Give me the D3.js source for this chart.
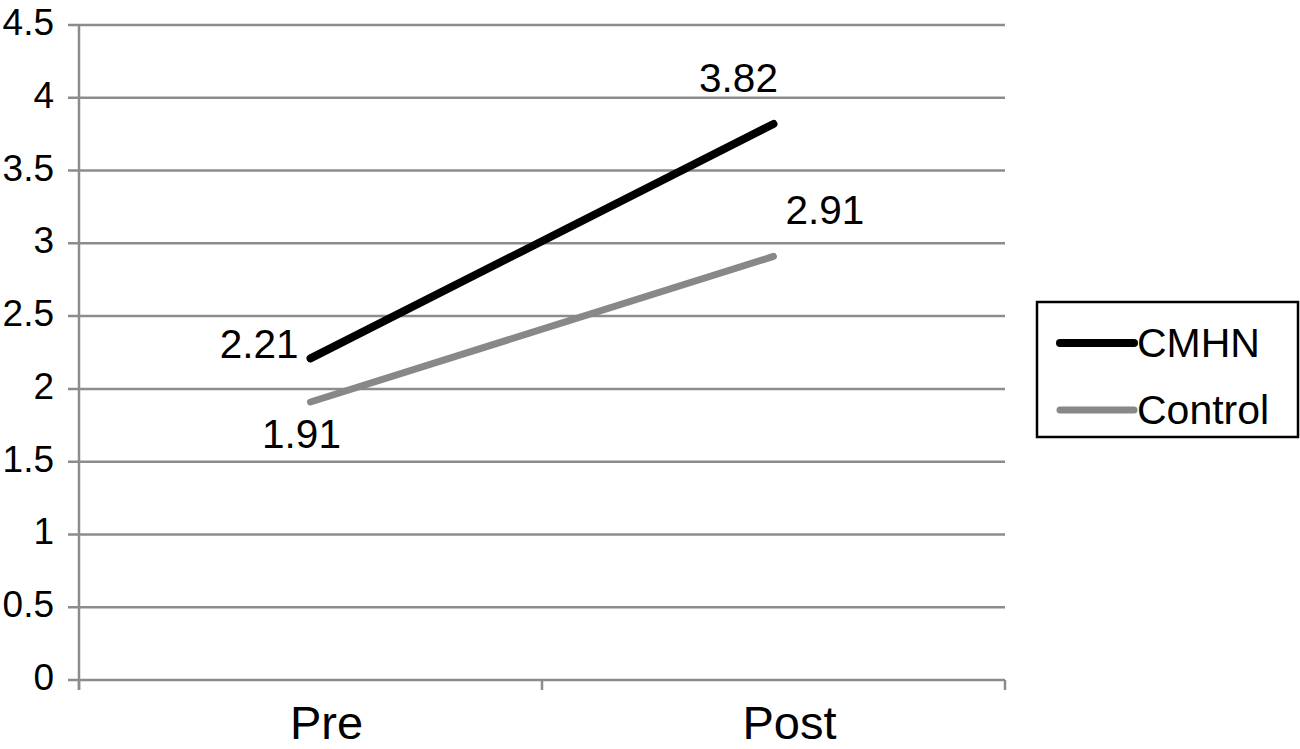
<!DOCTYPE html>
<html lang="en">

<head>
    <meta charset="UTF-8">
    <title>CMHN vs Control</title>
    <script src="https://d3js.org/d3.v7.min.js"></script>
    <style>
        body {
            margin: 0;
            background: #fff;
        }

        svg {
            display: block;
        }

        text {
            font-family: "Liberation Sans", Arial, Helvetica, sans-serif;
            fill: #000;
        }

        .grid line,
        .axis line {
            stroke: #8c8c8c;
            stroke-width: 2.5;
        }
    </style>
</head>

<body>
    <script>
        // data
        const categories = ["Pre", "Post"];
        const seriesNames = ["CMHN", "Control"];
        const cmhnValues = [2.21, 3.82];
        const controlValues = [1.91, 2.91];
        const yTicks = [0, 0.5, 1, 1.5, 2, 2.5, 3, 3.5, 4, 4.5];

        const width = 1300
        const height = 749
        const margin = { top: 25, right: 295, bottom: 69, left: 79 }

        let svg = d3.select("body").append("svg")
            .attr("width", width)
            .attr("height", height);

        let x = d3.scaleBand()
            .domain(categories)
            .range([margin.left, width - margin.right])
            .padding(0);

        let y = d3.scaleLinear()
            .domain([0, 4.5])
            .range([height - margin.bottom, margin.top]);

        const series = [
            { name: seriesNames[0], values: cmhnValues, color: "#000", width: 8 },
            { name: seriesNames[1], values: controlValues, color: "#888", width: 7 }
        ];

        // horizontal gridlines (with small tick stub on the left)
        let gGrid = svg.append("g").attr("class", "grid");
        gGrid.selectAll("line")
            .data(yTicks)
            .enter()
            .append("line")
            .attr("x1", margin.left - 11)
            .attr("x2", width - margin.right)
            .attr("y1", d => y(d))
            .attr("y2", d => y(d));

        // y tick labels
        svg.append("g").selectAll("text")
            .data(yTicks)
            .enter()
            .append("text")
            .attr("x", 54)
            .attr("y", d => y(d) + 10)
            .attr("text-anchor", "end")
            .attr("font-size", 37)
            .text(d => d);

        // axes lines
        let gAxis = svg.append("g").attr("class", "axis");
        gAxis.append("line")
            .attr("x1", margin.left).attr("x2", margin.left)
            .attr("y1", y(4.5)).attr("y2", y(0) + 10);

        // x ticks at band edges
        const xEdges = categories.map(c => x(c)).concat([x(categories[categories.length - 1]) + x.bandwidth()]);
        gAxis.selectAll(".xtick")
            .data(xEdges)
            .enter()
            .append("line")
            .attr("x1", d => d).attr("x2", d => d)
            .attr("y1", y(0)).attr("y2", y(0) + 10);

        // category labels
        svg.append("g").selectAll("text")
            .data(categories)
            .enter()
            .append("text")
            .attr("x", d => x(d) + x.bandwidth() / 2 + 16)
            .attr("y", 739)
            .attr("text-anchor", "middle")
            .attr("font-size", 47)
            .text(d => d);

        // lines
        let line = d3.line()
            .x((d, i) => x(categories[i]) + x.bandwidth() / 2)
            .y(d => y(d));

        svg.append("g").selectAll("path")
            .data(series)
            .enter()
            .append("path")
            .attr("d", d => line(d.values))
            .attr("fill", "none")
            .attr("stroke", d => d.color)
            .attr("stroke-width", d => d.width)
            .attr("stroke-linecap", "round");

        // data labels, offsets relative to the point
        const labelOffsets = {
            "CMHN": [{ dx: -12, dy: 0, anchor: "end" }, { dx: -35, dy: -32, anchor: "middle" }],
            "Control": [{ dx: -9, dy: 46, anchor: "middle" }, { dx: 12, dy: -32, anchor: "start" }]
        };
        series.forEach(s => {
            s.values.forEach((v, i) => {
                let o = labelOffsets[s.name][i];
                svg.append("text")
                    .attr("x", x(categories[i]) + x.bandwidth() / 2 + o.dx)
                    .attr("y", y(v) + o.dy)
                    .attr("text-anchor", o.anchor)
                    .attr("font-size", 40.5)
                    .text(v.toFixed(2));
            });
        });

        // legend
        let gLegend = svg.append("g").attr("class", "legend");
        gLegend.append("rect")
            .attr("x", 1037).attr("y", 302)
            .attr("width", 261).attr("height", 135)
            .attr("fill", "#fff")
            .attr("stroke", "#000")
            .attr("stroke-width", 2.5);

        let items = gLegend.selectAll(".item")
            .data(series)
            .enter()
            .append("g")
            .attr("transform", (d, i) => `translate(1060,${343 + i * 67})`);
        items.append("line")
            .attr("x1", 0).attr("x2", 74)
            .attr("stroke", d => d.color)
            .attr("stroke-width", d => d.width)
            .attr("stroke-linecap", "round");
        items.append("text")
            .attr("x", 77)
            .attr("y", 14)
            .attr("font-size", 41)
            .text(d => d.name);
    </script>
</body>

</html>
